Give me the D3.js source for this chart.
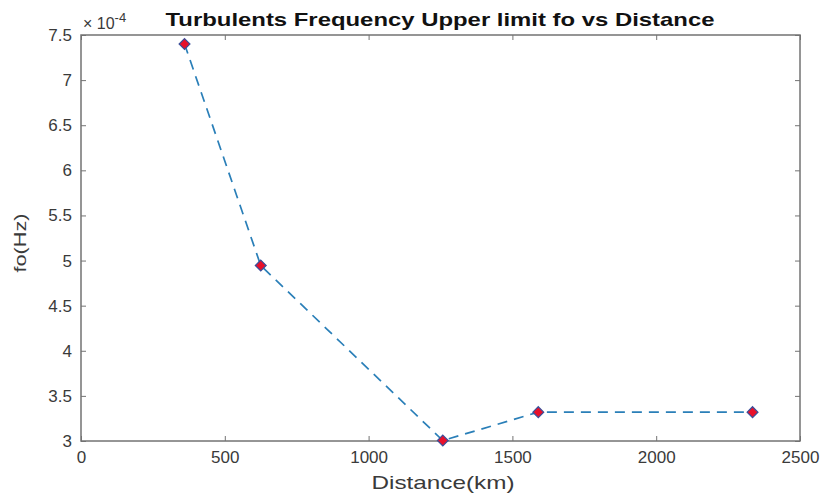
<!DOCTYPE html>
<html>
<head>
<meta charset="utf-8">
<script src="https://cdn.jsdelivr.net/npm/d3@7"></script>
<style>
  body { margin: 0; background: #fff; }
  text { font-family: "Liberation Sans", Arial, sans-serif; }
</style>
</head>
<body>
<div id="chart"></div>
<script>
// data (y values in units of 1e-4 Hz)
var distance = [360, 625, 1258, 1590, 2335];
var freq = [7.40, 4.945, 3.005, 3.32, 3.32];
var xTicks = [0, 500, 1000, 1500, 2000, 2500];
var yTicks = [3, 3.5, 4, 4.5, 5, 5.5, 6, 6.5, 7, 7.5];

var margin = { top: 35, right: 27, bottom: 56, left: 81 };
var width = 827 - margin.left - margin.right,
    height = 497 - margin.top - margin.bottom;

var svg = d3.select("#chart").append("svg")
    .attr("width", 827)
    .attr("height", 497);

var g = svg.append("g")
    .attr("transform", "translate(" + margin.left + "," + margin.top + ")");

var x = d3.scaleLinear().domain([0, 2500]).range([0, width]);
var y = d3.scaleLinear().domain([3, 7.5]).range([height, 0]);

var axisColor = "#737373";
var labelColor = "#3a3a3a";

function styleAxis(sel, showText) {
    sel.select(".domain").remove();
    sel.selectAll(".tick line").attr("stroke", axisColor).attr("stroke-width", 1);
    sel.selectAll(".tick text")
        .attr("fill", labelColor)
        .style("font-size", "17px");
    if (!showText) sel.selectAll(".tick text").remove();
}

// ticks inside on all four sides
g.append("g").attr("transform", "translate(0," + height + ")")
    .call(d3.axisBottom(x).tickValues(xTicks).tickFormat(d3.format("d")).tickSizeInner(-5).tickSizeOuter(0).tickPadding(10))
    .call(styleAxis, true);
g.append("g")
    .call(d3.axisTop(x).tickValues(xTicks).tickSizeInner(-5).tickSizeOuter(0))
    .call(styleAxis, false);
g.append("g")
    .call(d3.axisLeft(y).tickValues(yTicks).tickFormat(d3.format("")).tickSizeInner(-5).tickSizeOuter(0).tickPadding(9))
    .call(styleAxis, true);
g.append("g").attr("transform", "translate(" + width + ",0)")
    .call(d3.axisRight(y).tickValues(yTicks).tickSizeInner(-5).tickSizeOuter(0))
    .call(styleAxis, false);

// box
g.append("rect")
    .attr("width", width)
    .attr("height", height)
    .attr("fill", "none")
    .attr("stroke", axisColor)
    .attr("stroke-width", 1.5);

var pts = distance.map(function(d, i){ return [d, freq[i]]; });

var line = d3.line()
    .x(function(d){ return x(d[0]); })
    .y(function(d){ return y(d[1]); });

g.append("path")
    .datum(pts)
    .attr("d", line)
    .attr("fill", "none")
    .attr("stroke", "#2a7fb8")
    .attr("stroke-width", 1.7)
    .attr("stroke-dasharray", "10,7");

g.selectAll(".marker")
    .data(pts)
    .enter()
    .append("path")
    .attr("class", "marker")
    .attr("d", d3.symbol().type(d3.symbolDiamond2).size(75))
    .attr("transform", function(d){ return "translate(" + x(d[0]) + "," + y(d[1]) + ")"; })
    .attr("fill", "#e8102a")
    .attr("stroke", "#3a4f9a")
    .attr("stroke-width", 1.2);

// exponent label
var expo = svg.append("text")
    .attr("x", margin.left + 2)
    .attr("y", 29)
    .attr("fill", labelColor)
    .style("font-size", "16px");
expo.append("tspan").text("\u00d7 10");
expo.append("tspan").attr("dy", -7).style("font-size", "13px").text("-4");

// title
svg.append("text")
    .attr("x", 440)
    .attr("y", 26)
    .attr("text-anchor", "middle")
    .attr("textLength", 549)
    .attr("lengthAdjust", "spacingAndGlyphs")
    .style("font-size", "19px")
    .style("font-weight", "bold")
    .attr("fill", "#111")
    .text("Turbulents Frequency Upper limit fo vs Distance");

// axis labels
svg.append("text")
    .attr("x", 443)
    .attr("y", 489)
    .attr("text-anchor", "middle")
    .attr("textLength", 143)
    .attr("lengthAdjust", "spacingAndGlyphs")
    .attr("fill", labelColor)
    .style("font-size", "19px")
    .text("Distance(km)");

svg.append("text")
    .attr("transform", "translate(26,243) rotate(-90)")
    .attr("text-anchor", "middle")
    .attr("textLength", 59)
    .attr("lengthAdjust", "spacingAndGlyphs")
    .attr("fill", labelColor)
    .style("font-size", "17px")
    .text("fo(Hz)");
</script>
</body>
</html>
